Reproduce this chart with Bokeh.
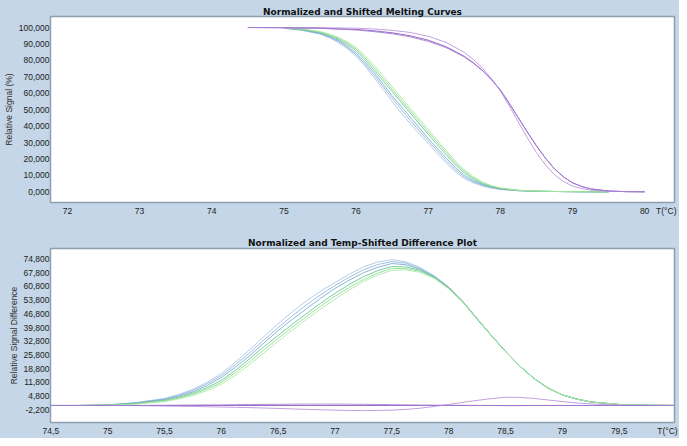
from bokeh.plotting import figure
from bokeh.layouts import column
from bokeh.models import FixedTicker, Range1d
from bokeh.embed import file_html
from bokeh.resources import INLINE

BG = "#c4d6e7"

# ---------------- Top panel: normalized and shifted melting curves ----------------
melt_T_samples = [75.0, 75.25, 75.5, 75.625, 75.75, 75.875, 76.0, 76.125, 76.25, 76.375,
                  76.5, 76.625, 76.75, 76.875, 77.0, 77.125, 77.25, 77.375, 77.5, 77.625,
                  77.75, 77.875, 78.0, 78.25, 78.5, 78.75, 79.0, 79.25, 79.5]
melt_blue1 = [99.6, 98.3, 96.0, 94.0, 91.0, 87.3, 82.5, 76.5, 69.5, 62.3, 55.0, 48.0, 41.5, 35.3, 29.5,
              23.3, 17.5, 12.3, 8.0, 5.4, 3.5, 2.3, 1.4, 0.6, 0.3, 0.2, 0.1, 0.0, 0.0]
melt_blue2 = [99.6, 98.4, 96.3, 94.1, 91.6, 87.9, 83.5, 77.5, 71.0, 64.0, 57.0, 50.2, 43.5, 37.2, 31.0,
              25.0, 19.0, 13.6, 9.0, 6.1, 4.0, 2.6, 1.6, 0.7, 0.3, 0.2, 0.1, 0.0, 0.0]
melt_blue3 = [99.7, 98.6, 96.6, 94.6, 92.3, 88.7, 84.5, 78.8, 72.5, 65.5, 58.5, 52.0, 45.5, 39.0, 32.5,
              26.5, 20.5, 14.8, 10.0, 6.8, 4.5, 2.9, 1.8, 0.8, 0.4, 0.2, 0.1, 0.0, 0.0]
melt_green1 = [99.7, 98.8, 97.0, 95.2, 93.0, 89.8, 86.0, 80.3, 74.0, 67.5, 61.0, 54.5, 48.0, 41.5, 35.0,
               28.7, 22.5, 16.5, 11.5, 7.8, 5.0, 3.2, 2.0, 0.8, 0.4, 0.2, 0.1, 0.0, 0.0]
melt_green2 = [99.8, 99.0, 97.3, 95.6, 93.6, 90.6, 87.0, 81.5, 75.5, 69.0, 62.5, 56.0, 49.5, 43.0, 36.5,
               30.2, 24.0, 17.8, 12.5, 8.6, 5.5, 3.5, 2.2, 0.9, 0.4, 0.2, 0.1, 0.0, 0.0]
melt_green3 = [99.8, 99.1, 97.6, 96.1, 94.2, 91.4, 88.0, 82.7, 77.0, 70.5, 64.0, 57.5, 51.0, 44.5, 38.0,
               31.5, 25.0, 18.8, 13.5, 9.3, 6.0, 3.8, 2.4, 1.0, 0.5, 0.2, 0.1, 0.0, 0.0]

melt_T_ref = [74.5, 75.0, 75.5, 76.0, 76.25, 76.5, 76.75, 77.0, 77.25, 77.5, 77.625, 77.75, 77.875,
              78.0, 78.125, 78.25, 78.375, 78.5, 78.625, 78.75, 78.875, 79.0, 79.125, 79.25,
              79.5, 79.75, 80.0]
melt_purple_ref = [100.0, 99.9, 99.6, 98.8, 98.0, 96.8, 95.0, 92.3, 88.3, 82.5, 78.6, 74.0, 68.5,
                   62.0, 53.8, 45.0, 36.3, 28.0, 20.5, 14.0, 9.1, 5.5, 3.3, 1.8, 0.5, 0.1, 0.0]
melt_purple_b = [100.0, 99.9, 99.9, 99.6, 99.1, 98.3, 97.0, 94.7, 90.9, 84.9, 80.6, 75.4, 69.0,
                 61.5, 52.2, 42.4, 32.8, 23.8, 16.4, 10.4, 6.3, 3.5, 2.0, 1.0, 0.3, 0.1, 0.0]
melt_purple_c = [100.0, 99.9, 99.5, 98.5, 97.5, 96.2, 94.3, 91.6, 87.7, 82.1, 78.3, 73.8, 68.35,
                 61.9, 53.75, 45.0, 36.3, 28.1, 20.6, 14.0, 9.1, 5.5, 3.3, 1.8, 0.5, 0.1, 0.0]

top_xticks = [72, 73, 74, 75, 76, 77, 78, 79, 80, 80.3]
top_xlabels = ["72", "73", "74", "75", "76", "77", "78", "79", "80", "T(°C)"]
top_yticks = [0, 10, 20, 30, 40, 50, 60, 70, 80, 90, 100]
top_ylabels = ["0,000", "10,000", "20,000", "30,000", "40,000", "50,000",
               "60,000", "70,000", "80,000", "90,000", "100,000"]

# ---------------- Bottom panel: difference plot ----------------
diff_T = [74.5, 74.75, 75.0, 75.25, 75.5, 75.625, 75.75, 75.875, 76.0, 76.125,
          76.25, 76.375, 76.5, 76.625, 76.75, 76.875, 77.0, 77.125, 77.25, 77.375,
          77.5, 77.625, 77.75, 77.875, 78.0, 78.125, 78.25, 78.375, 78.5, 78.625,
          78.75, 78.875, 79.0, 79.125, 79.25, 79.5, 79.75, 80.0]
diff_blue1 = [0.0, 0.0, 0.3, 1.5, 3.6, 5.6, 8.3, 11.9, 16.3, 22.2,
              28.5, 35.2, 41.8, 47.9, 53.5, 58.5, 62.8, 67.0, 70.8, 73.3,
              74.5, 73.4, 70.5, 66.2, 60.6, 53.2, 44.4, 35.8, 27.7, 20.2,
              13.8, 8.9, 5.4, 3.3, 1.8, 0.5, 0.1, 0.0]
diff_blue2 = [0.0, 0.0, 0.3, 1.4, 3.3, 5.2, 7.7, 11.1, 15.3, 20.9,
              27.0, 33.5, 39.8, 45.8, 51.5, 56.6, 61.3, 65.5, 69.3, 72.0,
              73.5, 72.7, 70.0, 65.9, 60.4, 53.1, 44.3, 35.8, 27.7, 20.2,
              13.8, 8.9, 5.4, 3.3, 1.8, 0.5, 0.1, 0.0]
diff_blue3 = [0.0, 0.0, 0.2, 1.2, 3.0, 4.7, 7.0, 10.2, 14.3, 19.6,
              25.5, 31.9, 38.3, 44.0, 49.5, 54.8, 59.8, 64.0, 67.8, 70.6,
              72.5, 71.9, 69.5, 65.6, 60.2, 53.0, 44.2, 35.7, 27.6, 20.2,
              13.8, 8.9, 5.4, 3.3, 1.8, 0.5, 0.1, 0.0]
diff_green1 = [0.0, 0.0, 0.2, 1.0, 2.6, 4.2, 6.3, 9.2, 12.8, 18.0,
               24.0, 30.0, 35.8, 41.5, 47.0, 52.3, 57.3, 61.8, 65.8, 68.9,
               71.0, 70.8, 69.0, 65.4, 60.0, 52.9, 44.2, 35.7, 27.6, 20.2,
               13.8, 8.9, 5.4, 3.3, 1.8, 0.5, 0.1, 0.0]
diff_green2 = [0.0, 0.0, 0.1, 0.8, 2.3, 3.7, 5.7, 8.4, 11.8, 16.8,
               22.5, 28.4, 34.3, 40.0, 45.5, 50.8, 55.8, 60.3, 64.3, 67.6,
               70.0, 70.0, 68.5, 65.2, 59.8, 52.8, 44.1, 35.7, 27.6, 20.2,
               13.8, 8.9, 5.4, 3.3, 1.8, 0.5, 0.1, 0.0]
diff_green3 = [0.0, 0.0, 0.1, 0.7, 2.0, 3.3, 5.1, 7.6, 10.8, 15.5,
               21.0, 26.9, 32.8, 38.5, 44.0, 49.3, 54.3, 59.0, 63.3, 66.6,
               69.0, 69.3, 68.0, 64.9, 59.6, 52.7, 44.0, 35.6, 27.5, 20.2,
               13.8, 8.9, 5.4, 3.3, 1.8, 0.5, 0.1, 0.0]
diff_purple_ref = [0.0] * 38
diff_purple_b = [0.0, 0.0, 0.0, -0.1, -0.3, -0.4, -0.5, -0.65, -0.8, -0.95,
                 -1.1, -1.3, -1.5, -1.75, -2.0, -2.2, -2.4, -2.55, -2.6, -2.55,
                 -2.4, -2.0, -1.4, -0.5, 0.5, 1.6, 2.6, 3.5, 4.2, 4.1,
                 3.6, 2.8, 2.0, 1.3, 0.8, 0.2, 0.0, 0.0]
diff_purple_c = [0.0, 0.0, 0.0, 0.0, 0.1, 0.15, 0.2, 0.25, 0.3, 0.4,
                 0.5, 0.55, 0.6, 0.65, 0.7, 0.7, 0.7, 0.65, 0.6, 0.5,
                 0.4, 0.3, 0.2, 0.15, 0.1, 0.05, 0.0, 0.0, -0.1, -0.1,
                 0.0, 0.0, 0.0, 0.0, 0.0, 0.0, 0.0, 0.0]

bot_xticks = [74.5, 75, 75.5, 76, 76.5, 77, 77.5, 78, 78.5, 79, 79.5, 79.925]
bot_xlabels = ["74,5", "75", "75,5", "76", "76,5", "77", "77,5", "78", "78,5", "79", "79,5", "T(°C)"]
bot_yticks = [-2.2, 4.8, 11.8, 18.8, 25.8, 32.8, 39.8, 46.8, 53.8, 60.8, 67.8, 74.8]
bot_ylabels = ["-2,200", "4,800", "11,800", "18,800", "25,800", "32,800",
               "39,800", "46,800", "53,800", "60,800", "67,800", "74,800"]

sample_colors = ["#a9c7e5", "#8db5db", "#76a6cf", "#5fc58c", "#8cdb8c", "#a8e9a2"]
purple_colors = ["#8a4fc0", "#b98fdb", "#a07ad0"]

TICK_FONT = "Liberation Sans"


def style(p, title, ylabel, xticks, xlabels, yticks, ylabels, offset, title_standoff):
    p.title.text = title
    p.title.align = "center"
    p.title.offset = offset
    p.title.text_font = "DejaVu Sans"
    p.title.text_font_style = "bold"
    p.title.text_font_size = "9px"
    p.title.text_color = "#111111"
    p.title.standoff = title_standoff
    p.border_fill_color = BG
    p.background_fill_color = "white"
    p.outline_line_color = "#8f9eb0"
    p.outline_line_width = 1.5
    p.xgrid.visible = False
    p.ygrid.visible = False
    for ax in (p.xaxis[0], p.yaxis[0]):
        ax.axis_line_color = None
        ax.major_tick_line_color = None
        ax.minor_tick_line_color = None
        ax.major_tick_out = 0
        ax.major_tick_in = 0
        ax.minor_tick_out = 0
        ax.minor_tick_in = 0
        ax.major_label_text_font = TICK_FONT
        ax.major_label_text_font_size = "8.5px"
        ax.major_label_text_color = "#222222"
    p.xaxis[0].major_label_standoff = 3
    p.yaxis[0].major_label_standoff = 1
    p.xaxis[0].ticker = FixedTicker(ticks=xticks)
    p.xaxis[0].major_label_overrides = dict(zip(xticks, xlabels))
    p.yaxis[0].ticker = FixedTicker(ticks=yticks)
    p.yaxis[0].major_label_overrides = dict(zip(yticks, ylabels))
    p.yaxis[0].axis_label = ylabel
    p.yaxis[0].axis_label_text_font = TICK_FONT
    p.yaxis[0].axis_label_text_font_size = "8.5px"
    p.yaxis[0].axis_label_text_font_style = "normal"
    p.yaxis[0].axis_label_text_color = "#333333"
    p.yaxis[0].axis_label_standoff = 2


# top figure
p1 = figure(width=679, height=220, output_backend="svg", toolbar_location=None,
            x_range=Range1d(71.765, 80.414), y_range=Range1d(-6.5, 106.7),
            min_border_left=48, min_border_right=4, min_border_top=16, min_border_bottom=18)
style(p1, "Normalized and Shifted Melting Curves", "Relative Signal (%)",
      top_xticks, top_xlabels, top_yticks, top_ylabels, -22, 0)

for ys, c in zip([melt_blue1, melt_blue2, melt_blue3, melt_green1, melt_green2, melt_green3], sample_colors):
    p1.line(melt_T_samples, ys, line_color=c, line_width=1, line_alpha=0.85)
for ys, c in zip([melt_purple_ref, melt_purple_b, melt_purple_c], purple_colors):
    p1.line(melt_T_ref, ys, line_color=c, line_width=1, line_alpha=0.85)

# bottom figure
p2 = figure(width=679, height=218, output_backend="svg", toolbar_location=None,
            x_range=Range1d(74.497, 79.987), y_range=Range1d(-8.7, 80.2),
            min_border_left=43, min_border_right=5, min_border_top=28, min_border_bottom=12)
style(p2, "Normalized and Temp-Shifted Difference Plot", "Relative Signal Difference",
      bot_xticks, bot_xlabels, bot_yticks, bot_ylabels, -20, 2)

for ys, c in zip([diff_blue1, diff_blue2, diff_blue3, diff_green1, diff_green2, diff_green3], sample_colors):
    p2.line(diff_T, ys, line_color=c, line_width=1, line_alpha=0.85)
for ys, c in zip([diff_purple_ref, diff_purple_b, diff_purple_c], purple_colors):
    p2.line(diff_T, ys, line_color=c, line_width=1, line_alpha=0.85)

layout = column(p1, p2, spacing=0, styles={"background-color": BG})

open("out.html", "w").write(file_html(layout, INLINE))
